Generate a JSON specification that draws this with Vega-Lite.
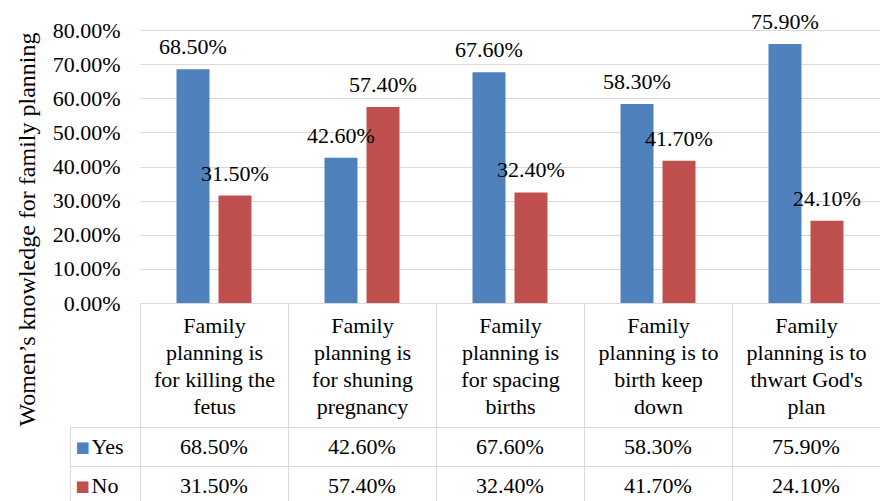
{
  "$schema": "https://vega.github.io/schema/vega-lite/v6.json",
  "padding": {"left": 15, "top": 10, "right": 0, "bottom": 0},
  "background": "white",
  "config": {
    "font": "Liberation Serif, Times New Roman, serif",
    "text": {"font": "Liberation Serif, Times New Roman, serif"},
    "view": {"stroke": null},
    "axis": {"labelFont": "Liberation Serif, Times New Roman, serif", "titleFont": "Liberation Serif, Times New Roman, serif", "labelColor": "black", "titleColor": "black"}
  },
  "datasets": {
    "d": [
      {"category": "Family planning is for killing the fetus", "response": "Yes", "value": 0.685},
      {"category": "Family planning is for killing the fetus", "response": "No", "value": 0.315},
      {"category": "Family planning is for shuning pregnancy", "response": "Yes", "value": 0.426},
      {"category": "Family planning is for shuning pregnancy", "response": "No", "value": 0.574},
      {"category": "Family planning is for spacing births", "response": "Yes", "value": 0.676},
      {"category": "Family planning is for spacing births", "response": "No", "value": 0.324},
      {"category": "Family planning is to birth keep down", "response": "Yes", "value": 0.583},
      {"category": "Family planning is to birth keep down", "response": "No", "value": 0.417},
      {"category": "Family planning is to thwart God's plan", "response": "Yes", "value": 0.759},
      {"category": "Family planning is to thwart God's plan", "response": "No", "value": 0.241}
    ]
  },
  "bounds": "flush",
  "spacing": 124,
  "vconcat": [
    {
      "width": 740,
      "height": 273,
      "data": {"name": "d"},
      "encoding": {
        "x": {
          "field": "category", "type": "nominal", "sort": null,
          "scale": {"paddingInner": 0, "paddingOuter": 0},
          "axis": {
            "orient": "bottom", "domain": true, "domainColor": "#D9D9D9",
            "ticks": true, "tickBand": "extent", "tickSize": 124, "tickColor": "#D9D9D9",
            "grid": false, "labelAngle": 0, "labelFontSize": 22, "labelLineHeight": 27,
            "labelPadding": -112, "labelBaseline": "top", "labelLimit": 0, "labelOverlap": false,
            "labelExpr": "datum.value == 'Family planning is for killing the fetus' ? ['Family','planning is','for killing the','fetus'] : datum.value == 'Family planning is for shuning pregnancy' ? ['Family','planning is','for shuning','pregnancy'] : datum.value == 'Family planning is for spacing births' ? ['Family','planning is','for spacing','births'] : datum.value == 'Family planning is to birth keep down' ? ['Family','planning is to','birth keep','down'] : datum.value == \"Family planning is to thwart God's plan\" ? ['Family','planning is to',\"thwart God's\",'plan'] : ''",
            "title": null
          }
        },
        "xOffset": {
          "field": "response", "type": "nominal", "sort": ["Yes", "No"],
          "scale": {"paddingInner": 0.214, "paddingOuter": 0.869}
        },
        "y": {
          "field": "value", "type": "quantitative",
          "scale": {"domain": [0, 0.8]},
          "axis": {
            "values": [0, 0.1, 0.2, 0.3, 0.4, 0.5, 0.6, 0.7, 0.8],
            "format": ".2%", "domain": false, "ticks": false, "tickSize": 0,
            "grid": true, "gridColor": "#D9D9D9",
            "labelFontSize": 22, "labelPadding": 20,
            "title": "Women’s knowledge for family planning",
            "titleFontSize": 24, "titleFontWeight": "normal", "titlePadding": 13,
            "titleY": 199
          }
        }
      },
      "layer": [
        {
          "mark": {"type": "bar"},
          "encoding": {
            "color": {
              "field": "response", "type": "nominal",
              "scale": {"domain": ["Yes", "No"], "range": ["#4F81BD", "#C0504D"]},
              "legend": null
            }
          }
        },
        {
          "mark": {"type": "text", "fontSize": 22, "dy": -22, "baseline": "middle", "color": "black"},
          "encoding": {
            "text": {"field": "value", "type": "quantitative", "format": ".2%"}
          }
        }
      ]
    },
    {
      "width": 740,
      "height": 78,
      "data": {"name": "d"},
      "resolve": {"scale": {"y": "independent"}, "axis": {"y": "independent"}},
      "layer": [
        {
          "mark": {"type": "text", "fontSize": 22, "color": "black"},
          "encoding": {
            "x": {
              "field": "category", "type": "nominal", "sort": null,
              "scale": {"paddingInner": 0, "paddingOuter": 0},
              "axis": {"orient": "top", "labels": false, "ticks": false, "domain": false, "grid": true, "tickBand": "extent", "gridColor": "#D9D9D9", "title": null}
            },
            "y": {
              "field": "response", "type": "nominal", "sort": ["Yes", "No"],
              "scale": {"paddingInner": 0, "paddingOuter": 0},
              "axis": {
                "orient": "left", "offset": 0, "domain": true, "domainColor": "#D9D9D9",
                "ticks": true, "tickBand": "extent", "tickSize": 70, "tickColor": "#D9D9D9",
                "grid": true, "gridColor": "#D9D9D9",
                "labelAlign": "left", "labelPadding": -21, "labelFontSize": 22, "labelBaseline": "middle",
                "title": null
              }
            },
            "text": {"field": "value", "type": "quantitative", "format": ".2%"}
          }
        },
        {
          "mark": {"type": "text", "text": ""},
          "encoding": {
            "y": {
              "field": "response", "type": "nominal", "sort": ["Yes", "No"],
              "scale": {"paddingInner": 0, "paddingOuter": 0},
              "axis": {
                "orient": "left", "offset": 70, "domain": true, "domainColor": "#D9D9D9",
                "ticks": false, "tickSize": 0, "grid": false,
                "labelExpr": "'■'",
                "labelColor": {"condition": {"test": "datum.value === 'Yes'", "value": "#4F81BD"}, "value": "#C0504D"},
                "labelFont": "DejaVu Sans", "labelFontSize": 15, "labelAlign": "left", "labelPadding": -5, "labelBaseline": "middle",
                "title": null
              }
            }
          }
        }
      ]
    }
  ]
}
